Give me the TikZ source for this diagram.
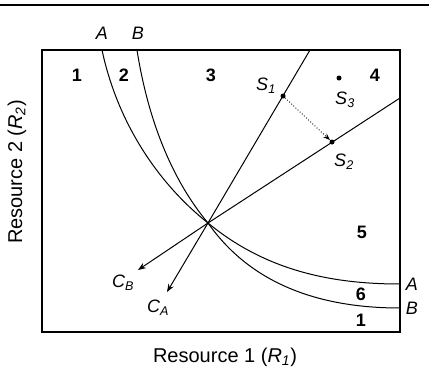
\documentclass[tikz,border=0pt]{standalone}
\usepackage{fontspec}
\setmainfont{Liberation Sans}
\usetikzlibrary{arrows.meta}
\begin{document}
\begin{tikzpicture}[x=1pt,y=-1pt,
  frame/.style={line width=1.3pt},
  curve/.style={line width=1pt},
  ray/.style={line width=1pt},
  region/.style={font=\fontsize{18}{18}\selectfont\bfseries},
  lab/.style={font=\fontsize{18}{18}\selectfont\itshape},
  axis/.style={font=\fontsize{20}{20}\selectfont},
  dot/.style={circle,fill,inner sep=0pt,minimum size=5pt}]
\useasboundingbox (0,0) rectangle (429,375);
\draw[line width=1.6pt] (0,5) -- (429,5);
\draw[frame] (42,50) rectangle (400,332);
% intersection
\coordinate (X) at (208,223);
\coordinate (At) at (102,50);
\coordinate (Bt) at (137,50);
\coordinate (Ar) at (400,284);
\coordinate (Br) at (400,308);
\coordinate (T1) at (310,50);
\coordinate (R2) at (400,98);
\coordinate (CB) at (138,270);
\coordinate (CA) at (167,292);
% curves
\draw[curve] (At) .. controls (118,125) and (160,185) .. (X)
  .. controls (265,270) and (330,284) .. (Ar);
\draw[curve] (Bt) .. controls (148,120) and (172,180) .. (X)
  .. controls (255,290) and (330,308) .. (Br);
% rays
\draw[ray] (X) -- (T1);
\draw[ray] (X) -- (R2);
\draw[ray,-{Stealth[length=8pt,width=6pt]}] (X) -- (CB);
\draw[ray,-{Stealth[length=8pt,width=6pt]}] (X) -- (CA);
% points
\node[dot] (S1) at (283,96) {};
\node[dot] (S2) at (332,142) {};
\node[dot] (S3) at (339,78) {};
\draw[line width=0.9pt,dotted,-{Stealth[length=7pt,width=5pt]}] (S1) -- (S2);
% labels
\node[lab] (lA) at (102,33) {A};
\node[lab] (lB) at (138,33) {B};
\node[lab] (lAr) at (412,284) {A};
\node[lab] (lBr) at (412,308) {B};
\node[lab] (lS1) at (266,86) {S\textsubscript{\itshape 1}};
\node[lab] (lS3) at (345,100) {S\textsubscript{\itshape 3}};
\node[lab] (lS2) at (344,162) {S\textsubscript{\itshape 2}};
\node[lab] (lCB) at (123,283) {C\textsubscript{\itshape B}};
\node[lab] (lCA) at (158,308) {C\textsubscript{\itshape A}};
\node[region] (r1) at (77,75) {1};
\node[region] (r2) at (124,75) {2};
\node[region] (r3) at (211,75) {3};
\node[region] (r4) at (375,75) {4};
\node[region] (r5) at (362,232) {5};
\node[region] (r6) at (361,294) {6};
\node[region] (r1b) at (361,320) {1};
\node[axis] (xl) at (225,357) {Resource 1 (\textit{R}\textsubscript{\itshape 1})};
\node[axis,rotate=90] (yl) at (17,172) {Resource 2 (\textit{R}\textsubscript{\itshape 2})};
\end{tikzpicture}
\end{document}
